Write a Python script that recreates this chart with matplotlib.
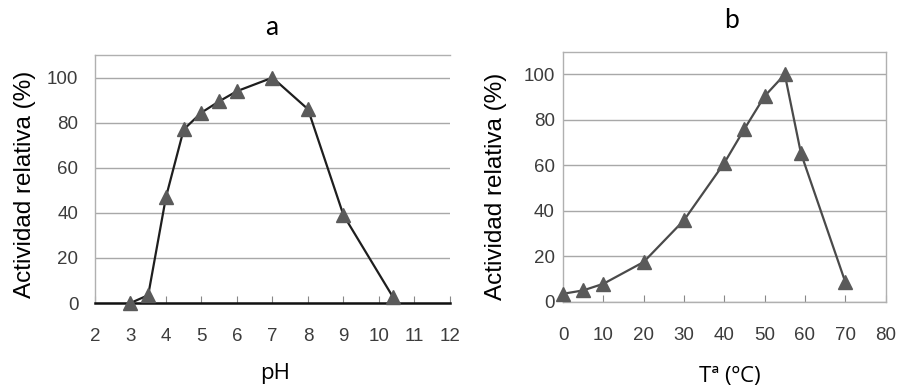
import numpy as np
import matplotlib
matplotlib.use("Agg")
import matplotlib.pyplot as plt

# panel a: pH
ph = [3, 3.5, 4, 4.5, 5, 5.5, 6, 7, 8, 9, 10.4]
act_ph = [0, 3.5, 47, 77, 84.5, 89.5, 94, 100, 86, 39, 2.5]

# panel b: temperatura
temp = [0, 5, 10, 20, 30, 40, 45, 50, 55, 59, 70]
act_temp = [3.4, 4.9, 7.8, 17.4, 35.8, 61, 76, 90.4, 100, 65.3, 8.6]

ph_ticks = list(range(2, 13))
temp_ticks = list(range(0, 81, 10))
y_ticks = [0, 20, 40, 60, 80, 100]

label_font = "Open Sans"
title_font = "Lato"
tick_font = "Liberation Sans"

fig = plt.figure(figsize=(9.01, 3.88), dpi=100)
ax1 = fig.add_axes([0.1054, 0.219, 0.394, 0.639])
ax2 = fig.add_axes([0.6249, 0.2229, 0.358, 0.644])


def style(ax, xticks, xlim):
    ax.set_xlim(*xlim)
    ax.set_ylim(0, 110)
    ax.set_yticks(y_ticks)
    ax.set_xticks(xticks)
    ax.grid(axis="y", color="#a8a8a8", lw=1.0)
    ax.set_axisbelow(True)
    for s in ax.spines.values():
        s.set_color("#b0b0b0")
        s.set_linewidth(1.0)
    ax.tick_params(axis="y", length=0, pad=6, labelsize=13.5, labelcolor="#3c3c3c")
    ax.tick_params(axis="x", direction="in", length=5, color="#888888",
                   pad=18, labelsize=13.5, labelcolor="#3c3c3c")
    for lab in ax.get_xticklabels() + ax.get_yticklabels():
        lab.set_fontfamily(tick_font)
    ax.set_ylabel("Actividad relativa (%)", fontsize=17.5, family=tick_font)


style(ax1, ph_ticks, (2, 12))
ax1.tick_params(axis="y", pad=12)
ax1.spines["bottom"].set_color("#111111")
ax1.spines["bottom"].set_linewidth(1.8)
ax1.spines["right"].set_visible(False)
ax1.plot(ph, act_ph, color="#1e1e1e", lw=1.6, marker="^", ms=10.5,
         mfc="#5a5a5a", mec="#5a5a5a", clip_on=False, zorder=3)
ax1.yaxis.set_label_coords(-0.165, 0.48)
ax1.set_xlabel("pH", fontsize=16, family=label_font, va="baseline")
ax1.xaxis.set_label_coords(0.507, -0.306)
ax1.text(0.4986, 1.081, "a", transform=ax1.transAxes, ha="center", va="baseline",
         fontsize=19, family=title_font)

style(ax2, temp_ticks, (0, 80))
ax2.plot(temp, act_temp, color="#4a4a4a", lw=1.6, marker="^", ms=10.5,
         mfc="#5a5a5a", mec="#5a5a5a", clip_on=False, zorder=3)
ax2.yaxis.set_label_coords(-0.175, 0.46)
ax2.set_xlabel("Tª (ºC)", fontsize=16, family=label_font, va="baseline")
ax2.xaxis.set_label_coords(0.518, -0.321)
ax2.text(0.523, 1.093, "b", transform=ax2.transAxes, ha="center", va="baseline",
         fontsize=19, family=title_font)

fig.savefig("out.png", dpi=100)
